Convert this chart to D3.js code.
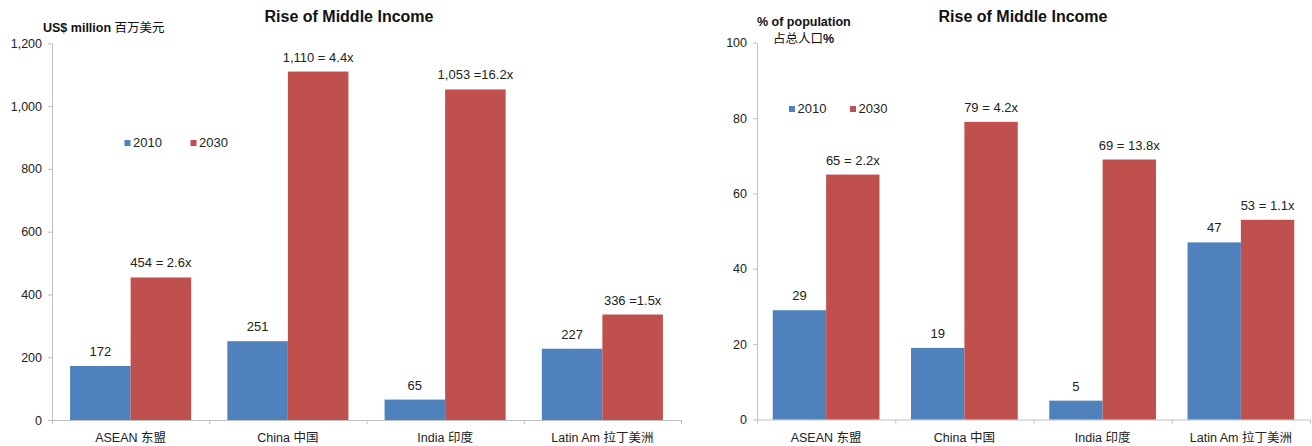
<!DOCTYPE html>
<html>
<head>
<meta charset="utf-8">
<script src="https://cdn.jsdelivr.net/npm/d3@7"></script>
<style>
  html, body { margin: 0; padding: 0; background: #fff; }
  svg { display: block; font-family: "Liberation Sans", Arial, "Noto Sans CJK SC", sans-serif; }
  .cjk { font-family: "Noto Sans CJK SC", sans-serif; font-weight: normal; }
</style>
</head>
<body>
<svg id="chart" width="1312" height="446"></svg>
<script>
// ---- data ----
const categories = ["ASEAN", "China", "India", "Latin Am"];
const categoriesCN = ["东盟", "中国", "印度", "拉丁美洲"];
const seriesNames = ["2010", "2030"];

const income2010 = [172, 251, 65, 227];
const income2030 = [454, 1110, 1053, 336];
const incomeLabels2010 = ["172", "251", "65", "227"];
const incomeLabels2030 = ["454 = 2.6x", "1,110 = 4.4x", "1,053 =16.2x", "336 =1.5x"];
const incomeTicks = [0, 200, 400, 600, 800, 1000, 1200];

const pop2010 = [29, 19, 5, 47];
const pop2030 = [65, 79, 69, 53];
const popLabels2010 = ["29", "19", "5", "47"];
const popLabels2030 = ["65 = 2.2x", "79 = 4.2x", "69 = 13.8x", "53 = 1.1x"];
const popTicks = [0, 20, 40, 60, 80, 100];

const colors = ["#4F81BD", "#C0504D"];
const axisColor = "#BFBFBF";
const textColor = "#222222";

const svg = d3.select("#chart");

function drawChart(opt) {
  const g = svg.append("g");
  const x0 = d3.scaleBand().domain(categories).range([opt.x0, opt.x1])
    .paddingInner(opt.padIn).paddingOuter(opt.padIn / 2);
  const x1 = d3.scaleBand().domain(seriesNames).range([0, x0.bandwidth()]);
  const y = d3.scaleLinear().domain([0, opt.ymax]).range([opt.yb, opt.yt]);

  // y axis
  const ya = g.append("g").attr("transform", `translate(${opt.x0},0)`)
    .call(d3.axisLeft(y).tickValues(opt.ticks).tickFormat(d3.format(",")).tickSize(4).tickSizeOuter(0).tickPadding(6));
  ya.select(".domain").attr("stroke", axisColor);
  ya.selectAll(".tick line").attr("stroke", axisColor);
  ya.selectAll(".tick text").attr("fill", textColor).style("font-size", "12.5px")
    .style("font-family", '"Liberation Sans", Arial, sans-serif');

  // x axis boundaries
  const xb = d3.scaleLinear().domain([0, categories.length]).range([opt.x0, opt.x1]);
  const xa = g.append("g").attr("transform", `translate(0,${opt.yb})`)
    .call(d3.axisBottom(xb).tickValues(d3.range(categories.length + 1)).tickFormat("").tickSize(4).tickSizeOuter(0));
  xa.select(".domain").attr("stroke", axisColor);
  xa.selectAll(".tick line").attr("stroke", axisColor);

  // category labels
  const catText = g.append("g").selectAll("text").data(categories).join("text")
    .attr("x", d => x0(d) + x0.bandwidth() / 2)
    .attr("y", 442)
    .attr("text-anchor", "middle")
    .attr("fill", textColor)
    .style("font-size", "12.5px");
  catText.append("tspan").text(d => d + " ");
  catText.append("tspan").attr("class", "cjk").text((d, i) => categoriesCN[i]);

  // bars
  const data = [opt.s1, opt.s2];
  const labels = [opt.l1, opt.l2];
  seriesNames.forEach((s, si) => {
    g.append("g").selectAll("rect").data(categories).join("rect")
      .attr("x", d => x0(d) + x1(s))
      .attr("y", (d, i) => y(data[si][i]))
      .attr("width", x1.bandwidth())
      .attr("height", (d, i) => y(0) - y(data[si][i]))
      .attr("fill", colors[si]);
    g.append("g").selectAll("text").data(categories).join("text")
      .attr("x", d => x0(d) + x1(s) + x1.bandwidth() / 2)
      .attr("y", (d, i) => y(data[si][i]) - 10)
      .attr("text-anchor", "middle")
      .attr("fill", textColor)
      .style("font-size", "13px")
      .text((d, i) => labels[si][i]);
  });

  // title
  g.append("text").attr("x", opt.titleX).attr("y", 21.5).attr("text-anchor", "middle")
    .attr("fill", "#111").style("font-size", "16px").style("font-weight", "bold")
    .text("Rise of Middle Income");

  // legend
  seriesNames.forEach((s, si) => {
    const lx = opt.legX + si * opt.legGap;
    g.append("rect").attr("x", lx).attr("y", opt.legY - 7).attr("width", 6).attr("height", 6)
      .attr("fill", colors[si]);
    g.append("text").attr("x", lx + 8.5).attr("y", opt.legY).attr("fill", textColor)
      .style("font-size", "13px").text(s);
  });
  return g;
}

const gL = drawChart({
  x0: 52, x1: 681, yb: 420, yt: 43.3, ymax: 1200, ticks: incomeTicks, padIn: 0.23,
  s1: income2010, s2: income2030, l1: incomeLabels2010, l2: incomeLabels2030,
  titleX: 349, legX: 124.5, legY: 147, legGap: 66
});
const uL = gL.append("text").attr("x", 43).attr("y", 32).attr("fill", "#111")
  .style("font-size", "12.5px").style("font-weight", "bold");
uL.append("tspan").text("US$ million ");
uL.append("tspan").attr("class", "cjk").text("百万美元");

const gR = drawChart({
  x0: 757, x1: 1310, yb: 419.5, yt: 42.7, ymax: 100, ticks: popTicks, padIn: 0.228,
  s1: pop2010, s2: pop2030, l1: popLabels2010, l2: popLabels2030,
  titleX: 1023, legX: 789, legY: 113, legGap: 61
});
gR.append("text").attr("x", 757).attr("y", 26).attr("fill", "#111")
  .style("font-size", "12.5px").style("font-weight", "bold").text("% of population");
const uR = gR.append("text").attr("x", 773).attr("y", 43).attr("fill", "#111")
  .style("font-size", "12.5px").style("font-weight", "bold");
uR.append("tspan").attr("class", "cjk").text("占总人口");
uR.append("tspan").text("%");
</script>
</body>
</html>
